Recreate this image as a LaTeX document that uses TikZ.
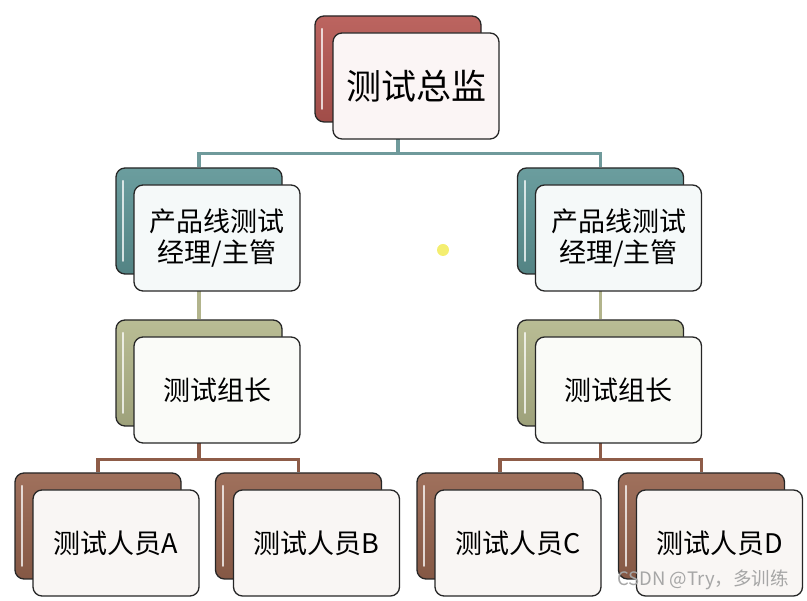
\documentclass[tikz,border=0pt]{standalone}
\usepackage{fontspec}
\setmainfont{Noto Sans CJK SC}
\usepackage{tikz}
\usetikzlibrary{positioning}

\definecolor{dirred}{HTML}{B65752}
\definecolor{mgrteal}{HTML}{5E9596}
\definecolor{grpolive}{HTML}{B3B78B}
\definecolor{tstbrown}{HTML}{97644E}
\definecolor{linkteal}{HTML}{6F9A9B}
\definecolor{linkolive}{HTML}{B2B48C}
\definecolor{linkbrown}{HTML}{8E5C48}
\definecolor{dotyellow}{HTML}{F4EE70}

\pgfdeclarelayer{bg}
\pgfsetlayers{bg,main}

\tikzset{
    back/.style={draw=black!85, line width=1.3pt, rounded corners=9pt,
        minimum width=166pt, minimum height=106pt, inner sep=0pt,
        top color=#1!92!white, bottom color=#1!88!black,
        path picture={
            \draw[white, line width=2pt, opacity=.75, line cap=round]
                ([xshift=7pt,yshift=-13pt]path picture bounding box.north west)
                -- ([xshift=7pt,yshift=13pt]path picture bounding box.south west);
        }},
    front/.style={draw=black!85, line width=1.3pt, rounded corners=9pt,
        minimum width=166pt, minimum height=106pt, inner sep=0pt,
        fill=#1!6!white, align=center,
        font=\fontsize{27}{31}\selectfont},
    link/.style={draw=#1, line width=3.5pt},
}

\begin{document}
\begin{tikzpicture}[x=1pt,y=1pt]
    \useasboundingbox (0,0) rectangle (807,601);

    % top
    \node[back=dirred] (dirB) at (398,532) {};
    \node[front=dirred, font=\fontsize{35}{40}\selectfont] (dir) at (416,515) {测试总监};

    % managers and group leaders
    \foreach \s/\x in {L/199, R/600.5} {
        \node[back=mgrteal] (mgr\s B) at (\x,380) {};
        \node[front=mgrteal] (mgr\s) at (\x+18,363) {产品线测试\\经理/主管};
        \node[back=grpolive] (grp\s B) at (\x,228) {};
        \node[front=grpolive] (grp\s) at (\x+18,211) {测试组长};
    }

    % testers
    \foreach \n/\x in {A/98, B/298.5, C/500, D/701.5} {
        \node[back=tstbrown] (t\n B) at (\x,75) {};
        \node[front=tstbrown] (t\n) at (\x+18,58) {测试人员\n};
    }

    \begin{pgfonlayer}{bg}
        \path[link=linkteal]
            (dirB.south) -- ++(0,-31) -| (mgrLB.north)
            (dirB.south) -- ++(0,-31) -| (mgrRB.north);
        \foreach \s in {L,R}
            \path[link=linkolive] (mgr\s B.south) -- (grp\s B.north);
        \foreach \s/\a/\b in {L/A/B, R/C/D}
            \path[link=linkbrown]
                (grp\s B.south) -- ++(0,-33) -| (t\a B.north)
                (grp\s B.south) -- ++(0,-33) -| (t\b B.north);
    \end{pgfonlayer}

    \fill[dotyellow] (443,351) circle (6);
    \node[gray!70, font=\fontsize{18.5}{22}\selectfont] (mark) at (703,21) {CSDN @Try，多训练};
\end{tikzpicture}
\end{document}
